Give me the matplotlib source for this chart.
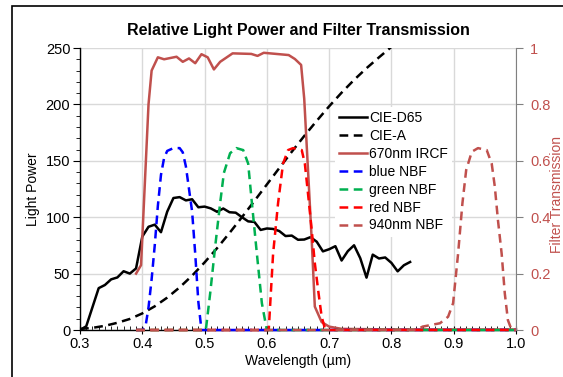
import matplotlib
matplotlib.use('Agg')
import matplotlib.pyplot as plt
from matplotlib.patches import Rectangle

plt.rcParams['font.family'] = ['Liberation Sans', 'DejaVu Sans']

# CIE illuminants (relative power)
d65_wl = [0.30, 0.31, 0.32, 0.33, 0.34, 0.35, 0.36, 0.37, 0.38, 0.39, 0.40, 0.41, 0.42,
          0.43, 0.44, 0.45, 0.46, 0.47, 0.48, 0.49, 0.50, 0.51, 0.52, 0.53, 0.54, 0.55,
          0.56, 0.57, 0.58, 0.59, 0.60, 0.61, 0.62, 0.63, 0.64, 0.65, 0.66, 0.67, 0.68,
          0.69, 0.70, 0.71, 0.72, 0.73, 0.74, 0.75, 0.76, 0.77, 0.78, 0.79, 0.80, 0.81,
          0.82, 0.83]
d65_val = [0.0, 3.3, 20.2, 37.1, 39.9, 44.9, 46.6, 52.1, 50.0, 54.6, 82.8, 91.5, 93.4,
           86.7, 104.9, 117.0, 117.8, 114.9, 115.9, 108.8, 109.4, 107.8, 104.8, 107.7,
           104.4, 104.0, 100.0, 96.3, 95.8, 88.7, 90.0, 89.6, 87.7, 83.3, 83.7, 80.0,
           80.2, 82.3, 78.3, 69.7, 71.6, 74.3, 61.6, 69.9, 75.1, 63.6, 46.4, 66.8, 63.4,
           64.3, 59.5, 52.0, 57.4, 60.3]

a_wl = [0.30, 0.32, 0.34, 0.36, 0.38, 0.40, 0.42, 0.44, 0.46, 0.48, 0.50, 0.52, 0.54,
        0.56, 0.58, 0.60, 0.62, 0.64, 0.66, 0.68, 0.70, 0.72, 0.74, 0.76, 0.78, 0.80]
a_val = [0.9, 1.9, 3.7, 6.4, 9.8, 14.7, 21.0, 28.7, 37.8, 48.2, 59.9, 72.5, 86.0,
         100.0, 114.4, 129.0, 143.6, 158.0, 172.0, 185.4, 198.3, 210.4, 221.7, 232.1,
         241.7, 251.0]

# filter transmissions
ircf_wl = [0.39, 0.398, 0.41, 0.415, 0.425, 0.435, 0.455, 0.465, 0.475, 0.485, 0.495,
           0.505, 0.515, 0.525, 0.545, 0.575, 0.585, 0.595, 0.615, 0.635, 0.645, 0.655,
           0.66, 0.672, 0.677, 0.688, 0.70, 0.72, 0.80, 1.0]
ircf_val = [0.20, 0.23, 0.80, 0.92, 0.967, 0.96, 0.969, 0.951, 0.963, 0.946, 0.978,
            0.967, 0.924, 0.951, 0.981, 0.979, 0.972, 0.983, 0.979, 0.975, 0.961, 0.94,
            0.82, 0.32, 0.083, 0.028, 0.012, 0.004, 0.002, 0.002]

blue_wl = [0.39, 0.40, 0.405, 0.41, 0.415, 0.42, 0.425, 0.43, 0.435, 0.44, 0.45, 0.46,
           0.465, 0.47, 0.475, 0.48, 0.485, 0.49, 0.495, 1.0]
blue_val = [0.0, 0.0, 0.01, 0.08, 0.18, 0.30, 0.44, 0.55, 0.61, 0.635, 0.645, 0.645,
            0.63, 0.58, 0.50, 0.42, 0.27, 0.10, 0.0, 0.0]

green_wl = [0.39, 0.502, 0.509, 0.517, 0.525, 0.531, 0.541, 0.551, 0.562, 0.57, 0.576,
            0.584, 0.592, 0.597, 0.60, 1.0]
green_val = [0.0, 0.0, 0.13, 0.295, 0.45, 0.557, 0.627, 0.645, 0.638, 0.59, 0.45,
             0.27, 0.095, 0.035, 0.0, 0.0]

red_wl = [0.39, 0.603, 0.61, 0.618, 0.626, 0.634, 0.642, 0.656, 0.661, 0.666, 0.672,
          0.677, 0.683, 0.688, 0.693, 0.697, 1.0]
red_val = [0.0, 0.0, 0.27, 0.45, 0.59, 0.638, 0.645, 0.638, 0.59, 0.485, 0.355,
           0.237, 0.13, 0.047, 0.007, 0.0, 0.0]

nir_wl = [0.39, 0.84, 0.85, 0.878, 0.891, 0.899, 0.907, 0.914, 0.92, 0.929, 0.939,
          0.953, 0.961, 0.966, 0.971, 0.977, 0.982, 0.987, 0.993, 1.0]
nir_val = [0.0, 0.0, 0.012, 0.024, 0.047, 0.095, 0.27, 0.45, 0.567, 0.632, 0.645,
           0.638, 0.59, 0.508, 0.39, 0.27, 0.13, 0.035, 0.0, 0.0]

IRED = '#C0504D'
DASH = (3.5, 2.2)

fig = plt.figure(figsize=(5.63, 3.77), dpi=100)
ax = fig.add_axes([80 / 563, 47 / 377, 436 / 563, 282 / 377])
ax2 = ax.twinx()

# border of the chart area (cropped at right/bottom)
fig.patches.append(Rectangle((12 / 563, -0.1), 1.2, (377 - 6) / 377 + 0.1,
                             transform=fig.transFigure, fill=False,
                             edgecolor='black', linewidth=1.2))

l1, = ax.plot(d65_wl, d65_val, color='black', lw=1.8, label='CIE-D65')
l2, = ax.plot(a_wl, a_val, color='black', lw=1.8, dashes=DASH, label='CIE-A')

l3, = ax2.plot(ircf_wl, ircf_val, color=IRED, lw=1.8, label='670nm IRCF', clip_on=False)
l4, = ax2.plot(blue_wl, blue_val, color='#0000FF', lw=1.8, dashes=DASH, label='blue NBF',
               clip_on=False)
l5, = ax2.plot(green_wl, green_val, color='#00B050', lw=1.8, dashes=DASH, label='green NBF',
               clip_on=False)
l6, = ax2.plot(red_wl, red_val, color='#FF0000', lw=1.8, dashes=DASH, label='red NBF',
               clip_on=False)
l7, = ax2.plot(nir_wl, nir_val, color=IRED, lw=1.8, dashes=DASH, label='940nm NBF',
               clip_on=False)

ax.set_xlim(0.3, 1.0)
ax.set_ylim(0, 250)
ax2.set_ylim(0, 1)

ax.set_xticks([0.3, 0.4, 0.5, 0.6, 0.7, 0.8, 0.9, 1.0])
ax.set_xticklabels(['0.3', '0.4', '0.5', '0.6', '0.7', '0.8', '0.9', '1.0'])
ax.set_xticks([0.3 + i * 0.01 for i in range(71)], minor=True)
ax.set_yticks([0, 50, 100, 150, 200, 250])
ax.set_yticks(list(range(0, 251, 10)), minor=True)
ax2.set_yticks([0, 0.2, 0.4, 0.6, 0.8, 1.0])
ax2.set_yticklabels(['0', '0.2', '0.4', '0.6', '0.8', '1'])

ax.grid(True, which='major', color='#D9D9D9', lw=1.0)
ax.set_axisbelow(True)

for s in ['top', 'right']:
    ax.spines[s].set_visible(False)
ax2.spines['top'].set_visible(False)
ax2.spines['left'].set_visible(False)
ax2.spines['bottom'].set_visible(False)
ax2.spines['right'].set_color('#808080')
ax.spines['left'].set_linewidth(1.0)
ax.spines['bottom'].set_linewidth(1.0)

ax.tick_params(axis='x', which='major', direction='inout', length=6, labelsize=10.5, pad=2)
ax.tick_params(axis='x', which='minor', direction='in', length=3)
ax.tick_params(axis='y', which='major', direction='out', length=5, labelsize=10.5, pad=2)
ax.tick_params(axis='y', which='minor', direction='out', length=3)
ax2.tick_params(axis='y', which='major', direction='out', length=5, color='#808080',
                labelcolor=IRED, labelsize=10.5, pad=5)

ax.set_xlabel('Wavelength (µm)', fontsize=10, labelpad=2)
ax.set_ylabel('Light Power', fontsize=10, labelpad=4)
ax2.set_ylabel('Filter Transmission', fontsize=10, color=IRED)
ax2.yaxis.set_label_coords((550 - 80) / 436, 0.48)

fig.text(298 / 563, 1 - 30 / 377, 'Relative Light Power and Filter Transmission',
         ha='center', va='center', fontsize=11.5, fontweight='bold')

leg = ax2.legend(handles=[l1, l2, l3, l4, l5, l6, l7], loc='upper left',
                 bbox_to_anchor=(335 / 563, 1 - 107 / 377), bbox_transform=fig.transFigure,
                 frameon=True, fontsize=10, handlelength=2.0, handletextpad=0.15,
                 labelspacing=0.28, borderpad=0.3, borderaxespad=0)
leg.get_frame().set_facecolor('white')
leg.get_frame().set_edgecolor('none')
leg.get_frame().set_alpha(1)

fig.savefig('out.png', dpi=100)
